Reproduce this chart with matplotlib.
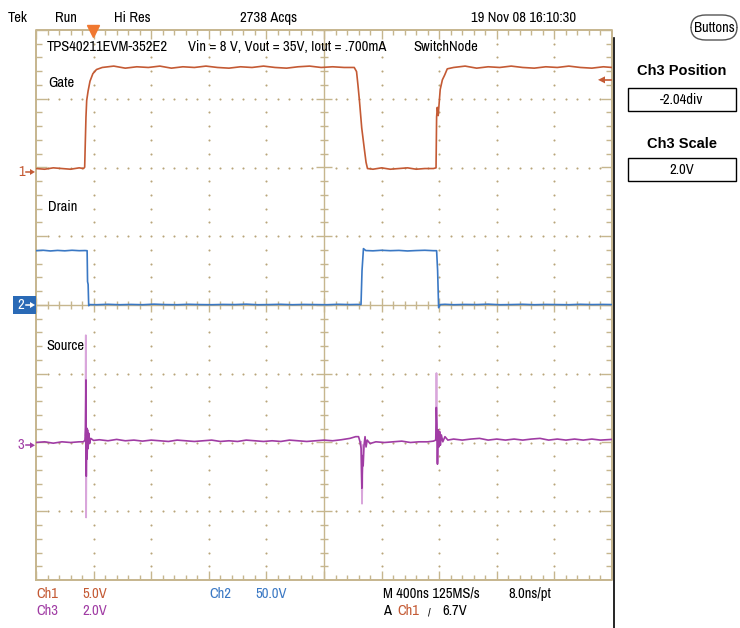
import matplotlib
matplotlib.use('Agg')
import matplotlib.pyplot as plt
import numpy as np
from matplotlib import font_manager
from matplotlib.collections import LineCollection
from matplotlib.patches import Rectangle, FancyBboxPatch

W, H = 740, 628

# scope screen in pixels (left, top, right, bottom)
SCR_L, SCR_T, SCR_R, SCR_B = 36, 30, 612, 580
NS_PER_DIV = 400

# channel settings: volts/div and position (div)
ch1_scale, ch1_pos = 5.0, 1.935
ch2_scale, ch2_pos = 50.0, 0.0
ch3_scale, ch3_pos = 2.0, -2.04
trig_level = 6.7
trig_time = 395

# Ch1 - Gate (ns, V)
gate_t = [0, 60, 120, 180, 240, 300,
          330, 338, 342, 347, 352, 362, 375, 395, 420, 460,
          540, 620, 700, 780, 860, 940, 1020, 1100, 1180, 1260, 1340,
          1420, 1500, 1580, 1660, 1740, 1820, 1900, 1980, 2060, 2140,
          2210, 2226, 2236, 2246, 2262, 2281, 2292, 2302,
          2340, 2400, 2460, 2520, 2580, 2640, 2700, 2760,
          2778, 2782, 2787, 2793, 2807, 2822, 2838, 2856,
          2900, 2980, 3060, 3140, 3220, 3300, 3380, 3460, 3540, 3620,
          3700, 3780, 3860, 3940, 4000]
gate_v = [0.25, 0.2, 0.3, 0.25, 0.2, 0.3,
          0.25, 0.35, 2.0, 4.0, 5.2, 5.9, 6.6, 7.15, 7.45, 7.6,
          7.7, 7.55, 7.65, 7.6, 7.7, 7.55, 7.65, 7.6, 7.7, 7.6, 7.55,
          7.65, 7.6, 7.7, 7.6, 7.55, 7.65, 7.7, 7.6, 7.65, 7.6,
          7.6, 7.3, 6.3, 5.2, 3.2, 1.6, 0.7, 0.25,
          0.2, 0.3, 0.2, 0.25, 0.3, 0.2, 0.25, 0.25,
          0.3, 4.0, 4.7, 4.1, 6.0, 6.7, 7.05, 7.5,
          7.6, 7.7, 7.55, 7.65, 7.6, 7.7, 7.6, 7.55, 7.65, 7.6,
          7.7, 7.6, 7.55, 7.65, 7.6]

# Ch2 - Drain (ns, V)
drain_t = [0, 50, 100, 150, 200, 250, 300, 340,
           355, 358, 362, 366, 372,
           420, 500, 580, 660, 740, 820, 900, 980, 1060, 1140, 1220, 1300,
           1380, 1460, 1540, 1620, 1700, 1780, 1860, 1940, 2020, 2100, 2180,
           2230, 2257, 2264, 2274, 2290,
           2340, 2400, 2460, 2520, 2580, 2640, 2700, 2760,
           2782, 2789, 2796, 2807, 2840,
           2900, 2980, 3060, 3140, 3220, 3300, 3380, 3460, 3540, 3620,
           3700, 3780, 3860, 3940, 4000]
drain_v = [39.5, 39.8, 39.3, 39.7, 39.4, 39.8, 39.5, 39.6,
           39.5, 17, 15, -0.5, 0.3,
           0.2, 0.5, 0.2, 0.4, 0.2, 0.6, 0.3, 0.2, 0.5, 0.3, 0.2, 0.4,
           0.3, 0.6, 0.2, 0.3, 0.5, 0.2, 0.4, 0.3, 0.2, 0.5, 0.3,
           0.4, 0.3, 25, 41, 39.6,
           39.4, 39.8, 39.5, 39.7, 39.3, 39.6, 39.8, 39.5,
           39.5, 25, -2.0, 0.3, 0.5,
           0.2, 0.4, 0.3, 0.6, 0.2, 0.3, 0.5, 0.2, 0.4, 0.3,
           0.2, 0.5, 0.3, 0.4, 0.3]

# Ch3 - Source (ns, V)
src_t = [0, 60, 120, 180, 240, 300,
         330, 340, 344, 347, 349, 352, 355, 358, 362, 366, 372, 380, 400,
         440, 500, 560, 620, 680, 740, 800, 860, 920, 980, 1040, 1100, 1160,
         1220, 1280, 1340, 1400, 1460, 1520, 1580, 1640, 1700, 1760, 1820,
         1880, 1940, 2000, 2060, 2120, 2180,
         2220, 2240, 2250, 2258, 2263, 2268, 2272, 2278, 2285, 2292, 2300, 2320,
         2360, 2420, 2480, 2540, 2600, 2660, 2720, 2760,
         2776, 2780, 2784, 2788, 2793, 2798, 2803, 2808, 2815, 2825, 2840, 2860,
         2900, 2960, 3020, 3080, 3140, 3200, 3260, 3320, 3380, 3440, 3500,
         3560, 3620, 3680, 3740, 3800, 3860, 3920, 4000]
src_v = [0.08, 0.1, 0.06, 0.1, 0.08, 0.1,
         0.1, 0.15, 0.5, 1.9, -0.9, 0.5, -0.4, 0.45, -0.1, 0.35, 0.05, 0.2, 0.14,
         0.16, 0.13, 0.17, 0.13, 0.15, 0.12, 0.15, 0.13, 0.11, 0.15, 0.13, 0.11, 0.13,
         0.15, 0.11, 0.13, 0.11, 0.15, 0.13, 0.11, 0.13, 0.11, 0.15, 0.13,
         0.11, 0.13, 0.15, 0.13, 0.16, 0.2,
         0.25, 0.25, 0.1, -0.1, -1.25, -0.3, -0.6, 0.0, 0.25, -0.05, 0.15, 0.05,
         0.1, 0.08, 0.1, 0.12, 0.08, 0.1, 0.1, 0.12,
         0.15, 1.1, 0.6, -0.55, 0.45, -0.05, 0.4, 0.0, 0.3, 0.1, 0.25, 0.15,
         0.18, 0.15, 0.18, 0.2, 0.15, 0.18, 0.15, 0.18, 0.15, 0.18, 0.2,
         0.15, 0.18, 0.15, 0.18, 0.15, 0.18, 0.15, 0.17]

# faint persistence envelope of the three spikes
spike_t = [[343, 346, 348, 351], [2258, 2264, 2270], [2777, 2781, 2787, 2792]]
spike_v = [[0.3, 3.2, -2.1, 0.3], [0.1, -1.7, 0.0], [0.15, 2.1, -0.5, 0.3]]

C_CH1 = '#c45a34'
C_CH2 = '#3a78c4'
C_CH3 = '#a03ca4'
C_CH3_LIGHT = '#d9a6db'
C_GRID = '#c6b68e'
C_DOT = '#b8a57a'

# narrow scope-like font if present, plain sans otherwise
_have = {f.name for f in font_manager.fontManager.ttflist}
if 'Archivo Narrow' in _have:
    FONT, FS = ['Archivo Narrow', 'DejaVu Sans'], 10.5
else:
    FONT, FS = ['Liberation Sans', 'DejaVu Sans'], 8.8
plt.rcParams['font.family'] = FONT


def to_div(t, v, scale, pos):
    return np.asarray(t) / NS_PER_DIV, np.asarray(v) / scale + pos


def ftext(x, y, s, **kw):
    kw.setdefault('fontsize', FS)
    kw.setdefault('va', 'center')
    kw.setdefault('ha', 'left')
    fig.text(x / W, 1 - y / H, s, **kw)


def farrow(x0, x1, y, color):
    fig.add_artist(plt.Line2D([x0 / W, (x1 - 3) / W], [1 - y / H] * 2, color=color, lw=1.1))
    fig.add_artist(plt.Polygon([(x1 / W, 1 - y / H), ((x1 - 5) / W, 1 - (y - 3) / H),
                                ((x1 - 5) / W, 1 - (y + 3) / H)], closed=True,
                               facecolor=color, edgecolor='none', zorder=3))


def ypix(div):
    return SCR_T + (4 - div) * (SCR_B - SCR_T) / 8


fig = plt.figure(figsize=(W / 100, H / 100), dpi=100, facecolor='white')
ax = fig.add_axes([SCR_L / W, 1 - SCR_B / H, (SCR_R - SCR_L) / W, (SCR_B - SCR_T) / H])
ax.set_xlim(0, 10)
ax.set_ylim(-4, 4)
ax.axis('off')

px_x = 10 / (SCR_R - SCR_L)
px_y = 8 / (SCR_B - SCR_T)

# graticule
ax.plot([0, 10, 10, 0, 0], [-4, -4, 4, 4, -4], color=C_GRID, lw=1.4, clip_on=False)
ax.plot([0, 10], [0, 0], color=C_GRID, lw=1.0)
ax.plot([5, 5], [-4, 4], color=C_GRID, lw=1.0)
segs = []
for x in np.arange(0, 10.001, 0.2):
    major = abs(x - round(x)) < 1e-6
    ly = (9 if major else 5) * px_y
    cy = (7 if major else 4) * px_y
    segs += [[(x, 4), (x, 4 - ly)], [(x, -4), (x, -4 + ly)], [(x, -cy), (x, cy)]]
for y in np.arange(-4, 4.001, 0.2):
    major = abs(y - round(y)) < 1e-6
    lx = (11 if major else 6) * px_x
    cx = (8 if major else 4) * px_x
    segs += [[(0, y), (lx, y)], [(10, y), (10 - lx, y)], [(5 - cx, y), (5 + cx, y)]]
ax.add_collection(LineCollection(segs, colors=C_GRID, lw=1.0))

dx, dy = [], []
for y in range(-3, 4):
    if y == 0:
        continue
    for x in np.arange(0.2, 10, 0.2):
        if abs(x - 5) > 1e-6:
            dx.append(x)
            dy.append(y)
for x in range(1, 10):
    if x == 5:
        continue
    for y in np.arange(-3.8, 4, 0.2):
        if abs(y - round(y)) > 1e-6:
            dx.append(x)
            dy.append(y)
ax.plot(dx, dy, ls='none', marker='o', ms=1.5, mec='none', mfc=C_DOT)

# traces
x1, y1 = to_div(gate_t, gate_v, ch1_scale, ch1_pos)
ax.plot(x1, y1, color=C_CH1, lw=1.2)
x2, y2 = to_div(drain_t, drain_v, ch2_scale, ch2_pos)
ax.plot(x2, y2, color=C_CH2, lw=1.2)
for st, sv in zip(spike_t, spike_v):
    xs, ys = to_div(st, sv, ch3_scale, ch3_pos)
    ax.plot(xs, ys, color=C_CH3_LIGHT, lw=1.3)
x3, y3 = to_div(src_t, src_v, ch3_scale, ch3_pos)
ax.plot(x3, y3, color=C_CH3, lw=1.2)

# trigger markers
trig_div = trig_level / ch1_scale + ch1_pos
ax.plot([trig_time / NS_PER_DIV], [4 - 1 * px_y], marker='v', ms=9, color='#f07830',
        clip_on=False)
ty = ypix(trig_div)
fig.add_artist(plt.Line2D([603 / W, 611 / W], [1 - ty / H] * 2, color=C_CH1, lw=1.2))
fig.add_artist(plt.Polygon([(598 / W, 1 - ty / H), (605 / W, 1 - (ty - 3.5) / H),
                            (605 / W, 1 - (ty + 3.5) / H)], closed=True,
                           facecolor=C_CH1, edgecolor='none', zorder=3))

# channel ground markers
for pos, label, col in [(ch1_pos, '1', C_CH1), (ch3_pos, '3', C_CH3)]:
    y = ypix(pos)
    ftext(18, y, label, color=col)
    farrow(26, 35, y, col)
y = ypix(ch2_pos)
fig.add_artist(Rectangle((13 / W, 1 - (y + 9) / H), 23 / W, 18 / H,
                         transform=fig.transFigure, facecolor='#2a6ab6',
                         edgecolor='none', zorder=2))
ftext(17, y, '2', color='white', zorder=4)
farrow(26, 35, y, 'white')

# right edge of scope display
fig.add_artist(plt.Line2D([614 / W, 614 / W], [0, 1 - 38 / H], color='black', lw=1.2))

# header
ftext(8, 18, 'Tek')
ftext(55, 18, 'Run')
ftext(114, 18, 'Hi Res')
ftext(240, 18, '2738 Acqs')
ftext(471, 18, '19 Nov 08 16:10:30')
ftext(47, 47, 'TPS40211EVM-352E2')
ftext(188, 47, 'Vin = 8 V, Vout = 35V, Iout = .700mA')
ftext(413, 47, 'SwitchNode')
ftext(48, 83, 'Gate')
ftext(48, 207, 'Drain')
ftext(46, 346, 'Source')

# footer
ftext(36, 594, 'Ch1', color=C_CH1)
ftext(82, 594, '5.0V', color=C_CH1)
ftext(209, 594, 'Ch2', color=C_CH2)
ftext(255, 594, '50.0V', color=C_CH2)
ftext(383, 594, 'M 400ns 125MS/s')
ftext(508, 594, '8.0ns/pt')
ftext(36, 611, 'Ch3', color=C_CH3)
ftext(82, 611, '2.0V', color=C_CH3)
ftext(383, 611, 'A')
ftext(397, 611, 'Ch1', color=C_CH1)
ftext(428, 612, '/', fontsize=FS - 2)
ftext(442, 611, '6.7V')

# side panel
fig.patches.append(FancyBboxPatch((691 / W, 1 - 40 / H), 46 / W, 25 / H,
                                  boxstyle='round,pad=0,rounding_size=0.02',
                                  transform=fig.transFigure, facecolor='white',
                                  edgecolor='#555555', lw=1))
ftext(714, 28, 'Buttons', ha='center')
ftext(682, 71, 'Ch3 Position', ha='center', fontsize=10.5, fontweight='bold',
      family=['Liberation Sans', 'DejaVu Sans'])
ftext(682, 144, 'Ch3 Scale', ha='center', fontsize=10.5, fontweight='bold',
      family=['Liberation Sans', 'DejaVu Sans'])
for top, label in [(88, '-2.04div'), (158, '2.0V')]:
    fig.patches.append(Rectangle((628 / W, 1 - (top + 23) / H), 108 / W, 23 / H,
                                 transform=fig.transFigure, facecolor='white',
                                 edgecolor='black', lw=1))
    ftext(682, top + 11.5, label, ha='center')

fig.savefig('out.png', dpi=100, facecolor='white')
